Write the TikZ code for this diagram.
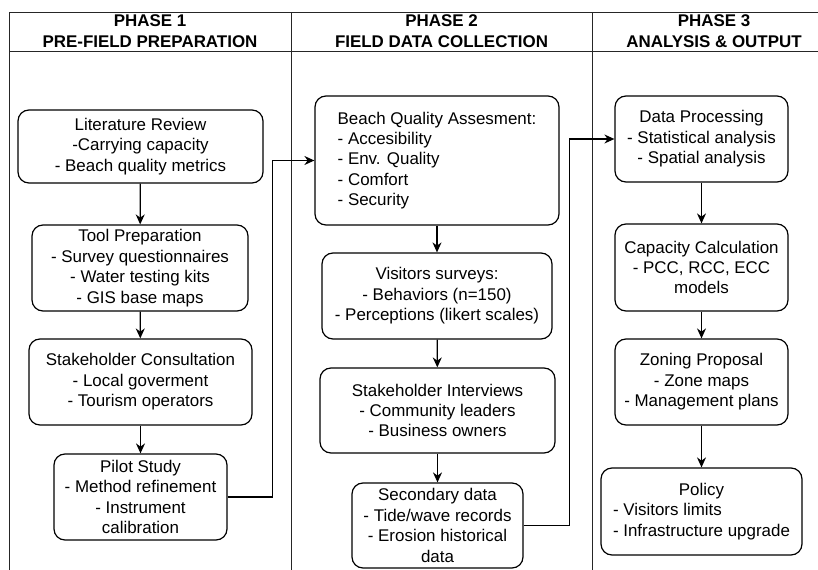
\documentclass[tikz,border=0pt]{standalone}
\usepackage{fontspec}
\setmainfont{Liberation Sans}
\usetikzlibrary{arrows.meta}
\begin{document}
\begin{tikzpicture}[x=1bp,y=-1bp,
  box/.style={draw, line width=1.2bp, rounded corners=11bp, inner sep=0pt, align=center, font=\fontsize{17}{20.5}\selectfont},
  arr/.style={line width=1.2bp, -{Stealth[length=10bp,width=9bp]}},
  lane/.style={line width=1bp, black!85},
  hdr/.style={font=\fontsize{17}{21}\selectfont\bfseries, align=center, inner sep=0pt}]
\useasboundingbox (0,0) rectangle (818,570);
\clip (0,0) rectangle (818,570);
% swimlane frame
\draw[lane] (9,13) -- (830,13);
\draw[lane] (9,52) -- (830,52);
\draw[lane] (9,13) -- (9,580);
\draw[lane] (291,13) -- (291,580);
\draw[lane] (592,13) -- (592,580);
\node[hdr] (h1) at (150,31) {PHASE 1\\PRE-FIELD PREPARATION};
\node[hdr] (h2) at (441.5,31) {PHASE 2\\FIELD DATA COLLECTION};
\node[hdr] (h3) at (714,31) {PHASE 3\\ANALYSIS \& OUTPUT};
% phase 1
\node[box, minimum width=245bp, minimum height=73bp] (lit) at (140.5,146.5) {Literature Review\\-Carrying capacity\\- Beach quality metrics};
\node[box, minimum width=216bp, minimum height=86bp] (tool) at (140,268) {Tool Preparation\\- Survey questionnaires\\- Water testing kits\\- GIS base maps};
\node[box, minimum width=223bp, minimum height=86bp] (cons) at (140.5,382) {Stakeholder Consultation\\- Local goverment\\- Tourism operators};
\node[box, minimum width=173bp, minimum height=86bp] (pilot) at (140.5,497) {Pilot Study\\- Method refinement\\- Instrument\\calibration};
% phase 2
\node[box, align=left, minimum width=244bp, minimum height=129bp] (bqa) at (437,160.5) {Beach Quality Assesment:\\- Accesibility\\- Env. Quality\\- Comfort\\- Security};
\node[box, minimum width=230bp, minimum height=86bp] (vis) at (437,296) {Visitors surveys:\\- Behaviors (n=150)\\- Perceptions (likert scales)};
\node[box, minimum width=235bp, minimum height=85bp] (int) at (437.5,410.5) {Stakeholder Interviews\\- Community leaders\\- Business owners};
\node[box, minimum width=171bp, minimum height=85bp] (sec) at (437.5,525.5) {Secondary data\\- Tide/wave records\\- Erosion historical\\data};
% phase 3
\node[box, minimum width=173bp, minimum height=86bp] (dp) at (701.5,139) {Data Processing\\- Statistical analysis\\- Spatial analysis};
\node[box, minimum width=173bp, minimum height=87bp] (cap) at (701.5,267.5) {Capacity Calculation\\- PCC, RCC, ECC\\models};
\node[box, minimum width=173bp, minimum height=86bp] (zon) at (701.5,382) {Zoning Proposal\\- Zone maps\\- Management plans};
\node[box, minimum width=201bp, minimum height=87bp] (pol) at (701.5,511.5) {\renewcommand\arraystretch{1}\begin{tabular}{@{}l@{}}\multicolumn{1}{@{}c@{}}{Policy}\\- Visitors limits\\- Infrastructure upgrade\end{tabular}};
% connectors
\draw[arr] (lit) -- (tool);
\draw[arr] (tool) -- (cons);
\draw[arr] (cons) -- (pilot);
\draw[arr] (pilot.east) -- ++(45,0) |- (bqa.west);
\draw[arr] (bqa) -- (vis);
\draw[arr] (vis) -- (int);
\draw[arr] (int) -- (sec);
\draw[arr] (sec.east) -- ++(46,0) |- (dp.west);
\draw[arr] (dp) -- (cap);
\draw[arr] (cap) -- (zon);
\draw[arr] (zon) -- (pol);
\end{tikzpicture}
\end{document}
